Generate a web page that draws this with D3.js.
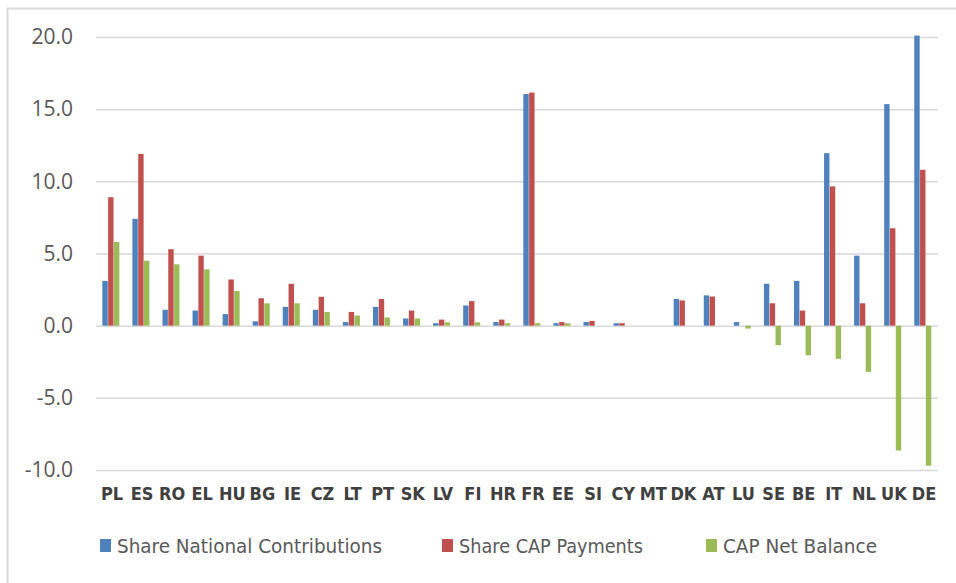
<!DOCTYPE html>
<html>
<head>
<meta charset="utf-8">
<script src="https://cdn.jsdelivr.net/npm/d3@7"></script>
<style>
  body { margin: 0; background: #fff; }
  svg { display: block; }
</style>
</head>
<body>
<div class="chart"></div>
<script>
/* CAP shares by member state, grouped bars. */

var countries = ["PL","ES","RO","EL","HU","BG","IE","CZ","LT","PT","SK","LV","FI","HR",
                 "FR","EE","SI","CY","MT","DK","AT","LU","SE","BE","IT","NL","UK","DE"];

var nationalContrib = [3.1, 7.4, 1.1, 1.05, 0.8, 0.3, 1.3, 1.1, 0.25, 1.3, 0.5, 0.17, 1.4, 0.25,
                       16.05, 0.17, 0.25, 0.17, 0.0, 1.85, 2.1, 0.25, 2.9, 3.1, 11.95, 4.85, 15.35, 20.1];

var capPayments = [8.9, 11.9, 5.3, 4.85, 3.2, 1.9, 2.9, 2.0, 0.95, 1.85, 1.05, 0.42, 1.7, 0.42,
                   16.15, 0.25, 0.33, 0.17, 0.0, 1.75, 2.02, 0.0, 1.55, 1.05, 9.65, 1.55, 6.75, 10.8];

var netBalance = [5.8, 4.5, 4.25, 3.9, 2.4, 1.55, 1.55, 0.95, 0.7, 0.57, 0.5, 0.23, 0.23, 0.17,
                  0.17, 0.17, 0.0, 0.0, 0.0, 0.0, 0.0, -0.2, -1.35, -2.05, -2.3, -3.2, -8.65, -9.7];

var seriesNames = ["Share National Contributions", "Share CAP Payments", "CAP Net Balance"];
var seriesColors = ["#4f81bd", "#c0504d", "#9bbb59"];
var yTicks = [-10, -5, 0, 5, 10, 15, 20];

drawChart();

function drawChart() {

  var width = 956, height = 583;
  var plot = {left: 96, right: 938, top: 37, bottom: 470};

  var svg = d3.select(".chart")
      .append("svg")
      .attr("width", width)
      .attr("height", height);

  // outer frame (only left/top edges show in the window)
  svg.append("rect")
      .attr("x", 7.5).attr("y", 8.5)
      .attr("width", 1000).attr("height", 1000)
      .style("fill", "none")
      .style("stroke", "#d9d9d9")
      .style("stroke-width", 2);

  var x = d3.scaleBand()
      .domain(countries)
      .range([plot.left, plot.right]);

  var xInner = d3.scaleBand()
      .domain(seriesNames)
      .range([0, 17.4]);

  var y = d3.scaleLinear()
      .domain([-10, 20])
      .range([plot.bottom, plot.top]);

  var fmt = d3.format(".1f");

  // gridlines + tick labels
  var yAxis = d3.axisLeft(y)
      .tickValues(yTicks)
      .tickSize(-(plot.right - plot.left))
      .tickPadding(23)
      .tickFormat(function (d) { return fmt(d).replace("\u2212", "-"); });

  var gy = svg.append("g")
      .attr("transform", "translate(" + plot.left + ",0)")
      .call(yAxis);
  gy.select(".domain").remove();
  gy.selectAll(".tick line")
      .style("stroke", "#d9d9d9")
      .style("stroke-width", 1.5);
  gy.selectAll(".tick text")
      .style("font-family", "'Open Sans', sans-serif")
      .style("font-size", "21px")
      .style("fill", "#595959");

  var data = countries.map(function (c, i) {
    return {country: c, values: [nationalContrib[i], capPayments[i], netBalance[i]]};
  });

  var groups = svg.append("g")
      .selectAll("g")
      .data(data)
      .enter()
      .append("g")
      .attr("transform", function (d) {
        return "translate(" + (x(d.country) + x.bandwidth() / 2 - 8.7) + ",0)";
      });

  groups.selectAll("rect")
      .data(function (d) {
        return d.values.map(function (v, k) { return {series: seriesNames[k], value: v, k: k}; });
      })
      .enter()
      .append("rect")
      .attr("x", function (d) { return xInner(d.series); })
      .attr("width", xInner.bandwidth() - 0.4)
      .attr("y", function (d) { return y(Math.max(0, d.value)); })
      .attr("height", function (d) { return Math.abs(y(d.value) - y(0)); })
      .style("fill", function (d) { return seriesColors[d.k]; });

  // category labels
  svg.append("g")
      .selectAll("text")
      .data(countries)
      .enter()
      .append("text")
      .attr("x", function (d) { return x(d) + x.bandwidth() / 2 + 1; })
      .attr("y", 500)
      .attr("text-anchor", "middle")
      .style("font-family", "'DejaVu Sans Condensed', sans-serif")
      .style("font-weight", "bold")
      .style("font-size", "18px")
      .style("fill", "#404040")
      .text(function (d) { return d; });

  // legend
  var legendX = [100, 442, 706];
  var legendW = [282, 201, 171];

  var legend = svg.append("g")
      .selectAll("g")
      .data(seriesNames)
      .enter()
      .append("g")
      .attr("transform", function (d, i) { return "translate(" + legendX[i] + ",539)"; });

  legend.append("rect")
      .attr("width", 11).attr("height", 13)
      .style("fill", function (d, i) { return seriesColors[i]; });

  legend.append("text")
      .attr("x", 17)
      .attr("y", 14)
      .attr("textLength", function (d, i) { return legendW[i] - 17; })
      .attr("lengthAdjust", "spacingAndGlyphs")
      .style("font-family", "'DejaVu Sans Condensed', sans-serif")
      .style("font-size", "20px")
      .style("fill", "#595959")
      .text(function (d) { return d; });
}
</script>
</body>
</html>
